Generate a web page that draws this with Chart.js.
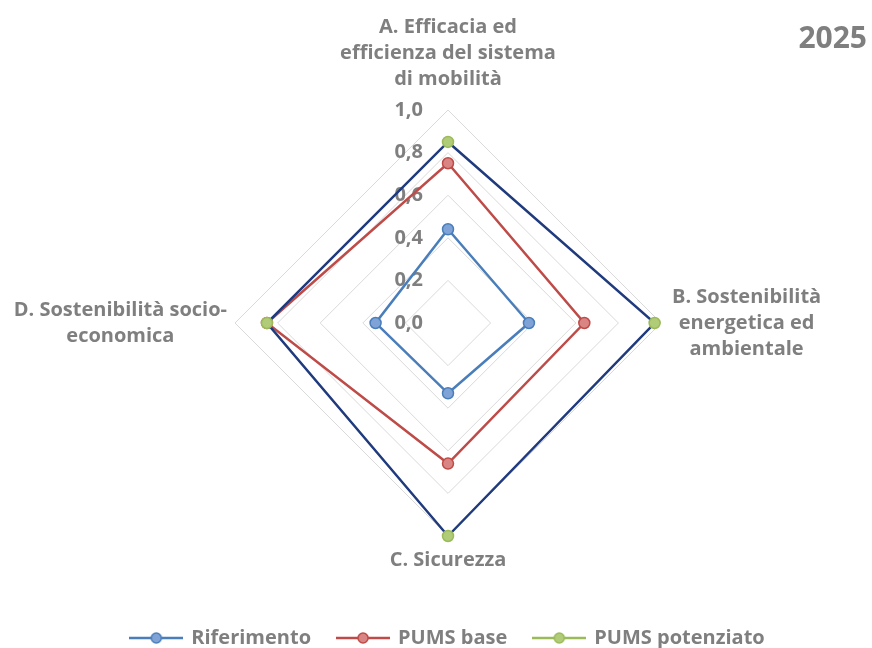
<!DOCTYPE html>
<html>
<head>
<meta charset="utf-8">
<script src="https://cdn.jsdelivr.net/npm/chart.js@4"></script>
<style>
  html, body { margin: 0; padding: 0; background: #fff; overflow: hidden; }
</style>
</head>
<body>
<canvas id="radar" width="872" height="648"></canvas>
<script>
// axes (one label per spoke, split in lines like the original)
const axisLabels = [
    ['A. Efficacia ed', 'efficienza del sistema', 'di mobilità'],
    ['B. Sostenibilità', 'energetica ed', 'ambientale'],
    ['C. Sicurezza'],
    ['D. Sostenibilità socio-', 'economica']
];
const seriesNames = ['Riferimento', 'PUMS base', 'PUMS potenziato'];
const riferimento = [0.44, 0.38, 0.33, 0.34];
const pumsBase = [0.75, 0.64, 0.66, 0.85];
const pumsPotenziato = [0.85, 0.97, 1.0, 0.85];
const tickLabels = ['0,0', '0,2', '0,4', '0,6', '0,8', '1,0'];
const yearLabel = '2025';

const FONT = '"Open Sans", sans-serif';
const GREY = '#7f7f7f';

// little "line + marker" swatch for the legend
function legendSwatch(lineColor, fill, stroke) {
    const c = document.createElement('canvas');
    c.width = 54;
    c.height = 14;
    const g = c.getContext('2d');
    g.strokeStyle = lineColor;
    g.lineWidth = 2.5;
    g.beginPath();
    g.moveTo(0, 7);
    g.lineTo(54, 7);
    g.stroke();
    g.beginPath();
    g.arc(27, 7, 5, 0, Math.PI * 2);
    g.fillStyle = fill;
    g.fill();
    g.lineWidth = 1.5;
    g.strokeStyle = stroke;
    g.stroke();
    return c;
}

const radarText = {
    id: 'radarText',
    beforeDatasetsDraw(chart) {
        const scale = chart.scales.r;
        const ctx = chart.ctx;
        ctx.save();
        ctx.font = 'bold 20px ' + FONT;
        ctx.fillStyle = GREY;
        ctx.textAlign = 'right';
        ctx.textBaseline = 'middle';
        scale.ticks.forEach((t) => {
            const p = scale.getPointPositionForValue(0, t.value);
            ctx.fillText(t.label, p.x - 25, p.y);
        });
        ctx.restore();
    },
    afterDraw(chart) {
        const scale = chart.scales.r;
        const ctx = chart.ctx;
        const lh = 26;
        const pads = [18, 11, 11, 8];
        ctx.save();
        ctx.font = 'bold 20px ' + FONT;
        ctx.fillStyle = GREY;
        ctx.textAlign = 'center';
        ctx.textBaseline = 'middle';
        axisLabels.forEach((lines, i) => {
            const a = scale.getPointPosition(i, scale.drawingArea + pads[i]);
            const w = Math.max(...lines.map(l => ctx.measureText(l).width));
            const n = lines.length;
            lines.forEach((line, k) => {
                let x = a.x, y = a.y;
                if (i === 0) {
                    y = a.y - (n - k) * lh + lh / 2;
                } else if (i === 2) {
                    y = a.y + k * lh + lh / 2;
                } else {
                    y = a.y + (k - (n - 1) / 2) * lh;
                    x = i === 1 ? a.x + w / 2 : a.x - w / 2;
                }
                ctx.fillText(line, x, y);
            });
        });
        ctx.font = 'bold 30px ' + FONT;
        ctx.textAlign = 'right';
        ctx.fillText(yearLabel, 867, 39);
        ctx.restore();
    }
};

new Chart(document.getElementById('radar'), {
    type: 'radar',
    data: {
        labels: axisLabels.map(l => l.join(' ')),
        datasets: [{
            label: seriesNames[0],
            data: riferimento,
            borderColor: '#4a7ebb',
            pointBackgroundColor: '#7fa3d6',
            pointBorderColor: '#4a7ebb',
            order: 2
        }, {
            label: seriesNames[1],
            data: pumsBase,
            borderColor: '#be4b48',
            pointBackgroundColor: '#d98583',
            pointBorderColor: '#be4b48',
            order: 1
        }, {
            label: seriesNames[2],
            data: pumsPotenziato,
            borderColor: '#1f3a7d',
            pointBackgroundColor: '#b0cc78',
            pointBorderColor: '#9bbb59',
            order: 0
        }]
    },
    options: {
        responsive: false,
        animation: false,
        layout: {
            padding: { top: 110, left: 48, right: 24, bottom: -10 }
        },
        elements: {
            line: { borderWidth: 2.5, fill: false, tension: 0 },
            point: { radius: 5.5, borderWidth: 1.5, hoverRadius: 5.5 }
        },
        scales: {
            r: {
                min: 0,
                max: 1,
                ticks: {
                    stepSize: 0.2,
                    display: false,
                    callback: (v, i) => tickLabels[i]
                },
                grid: { color: '#d9d9d9', lineWidth: 1 },
                angleLines: { display: false },
                pointLabels: { display: false }
            }
        },
        plugins: {
            tooltip: { enabled: false },
            legend: {
                position: 'bottom',
                title: { display: true, text: '', font: { size: 12 }, padding: { top: 50.6, bottom: 0 } },
                labels: {
                    usePointStyle: true,
                    pointStyleWidth: 50,
                    padding: 27,
                    color: GREY,
                    font: { family: FONT, size: 20, weight: 'bold' },
                    generateLabels: (chart) => chart.data.datasets.map((ds, i) => ({
                        text: ds.label,
                        datasetIndex: i,
                        fontColor: GREY,
                        lineWidth: 0,
                        pointStyle: legendSwatch(ds.pointBorderColor, ds.pointBackgroundColor, ds.pointBorderColor)
                    }))
                }
            }
        }
    },
    plugins: [radarText]
});
</script>
</body>
</html>
